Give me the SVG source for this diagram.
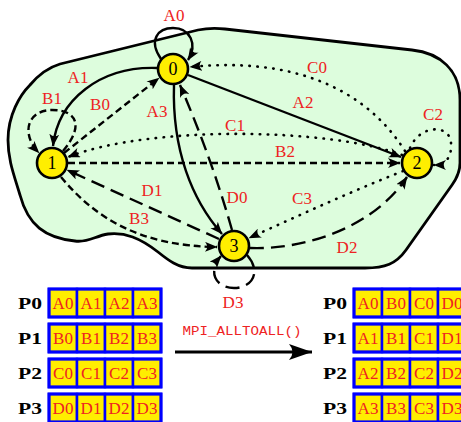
<svg xmlns="http://www.w3.org/2000/svg" width="461" height="422" viewBox="0 0 461 422">
<style>
.edge{fill:none;stroke:#000;stroke-width:2.4}
.a{}
.b{stroke-dasharray:7 4}
.c{stroke-dasharray:0.5 7.5;stroke-linecap:round;stroke-width:2.6}
.d{stroke-dasharray:14 7}
.lbl{font-family:"Liberation Serif","DejaVu Serif",serif;font-size:17px;fill:#ee2222;text-anchor:middle}
.node circle{fill:#ffee00;stroke:#000;stroke-width:2.6}
.node text{font-family:"Liberation Serif","DejaVu Serif",serif;font-size:18px;fill:#000;text-anchor:middle}
.cell{fill:#ffee00;stroke:#0000ff;stroke-width:2.5}
.outer{fill:none;stroke:#0000ff;stroke-width:3}
.ct{font-family:"Liberation Serif","DejaVu Serif",serif;font-size:17px;fill:#ee2222;text-anchor:middle}
.pl{font-family:"Liberation Serif","DejaVu Serif",serif;font-size:17px;font-weight:bold;fill:#000;text-anchor:middle}
</style>
<defs>
<marker id="ar" viewBox="0 0 13 10" refX="12" refY="5" markerWidth="13" markerHeight="10" markerUnits="userSpaceOnUse" orient="auto">
<path d="M12.5,5 L0,0 Q4.5,5 0,10 Z" fill="#000"/>
</marker>
<marker id="big" viewBox="0 0 24 16" refX="23" refY="8" markerWidth="24" markerHeight="16" markerUnits="userSpaceOnUse" orient="auto">
<path d="M23,8 L0,0 Q7,8 0,16 Z" fill="#000"/>
</marker>
</defs>

<path id="blob" d="M60,64 L198,30 C208,28 215,28 225,29 L412,50 C440,53 460,70 460,100 L460,163 C460,172 457,178 452,185 L406,250 C396,264 385,268 365,268 L192,268 C178,268 168,260 158,252 C140,238 125,232 108,234 C95,236 88,243 75,241 C45,238 28,225 20,195 C14,175 8,160 8,140 C8,115 20,95 30,85 C40,73 50,67 60,64 Z" fill="#ddfddd" stroke="#000" stroke-width="2.8"/>

<g id="connectors">
<path class="edge a" d="M161,59 C148,40 158,28 173,28 C190,28 198,44 188,60" marker-end="url(#ar)"/>
<path class="edge a" d="M157,68 C100,66 58,100 53,146" marker-end="url(#ar)"/>
<path class="edge a" d="M188,75 L401,157" marker-end="url(#ar)"/>
<path class="edge a" d="M174,85 C172,150 192,200 222,234" marker-end="url(#ar)"/>
<path class="edge b" d="M64,153 L159,78" marker-end="url(#ar)"/>
<path class="edge b" d="M63,151 C85,125 76,110 52,110 C28,110 20,133 39,153" marker-end="url(#ar)"/>
<path class="edge b" d="M68,163 L400,163" marker-end="url(#ar)"/>
<path class="edge b" d="M61,177 C95,218 140,246 217,247" marker-end="url(#ar)"/>
<path class="edge c" d="M405,151 C360,80 280,58 190,67" marker-end="url(#ar)"/>
<path class="edge c" d="M402,155 C330,128 150,125 68,157" marker-end="url(#ar)"/>
<path class="edge c" d="M410,148 C420,124 450,124 451,143 C452,158 445,165 434,165" marker-end="url(#ar)"/>
<path class="edge c" d="M403,171 C350,192 300,215 249,238" marker-end="url(#ar)"/>
<path class="edge d" d="M232,230 C215,170 195,120 180,85" marker-end="url(#ar)"/>
<path class="edge d" d="M219,239 L67,170" marker-end="url(#ar)"/>
<path class="edge d" d="M250,248 C300,250 372,230 407,177" marker-end="url(#ar)"/>
<path class="edge d" d="M247,255 C262,272 252,288 234,288 C216,288 207,272 221,256" marker-end="url(#ar)"/>
<text class="lbl" x="174" y="21">A0</text>
<text class="lbl" x="78" y="83">A1</text>
<text class="lbl" x="303" y="108">A2</text>
<text class="lbl" x="157" y="117">A3</text>
<text class="lbl" x="100" y="110">B0</text>
<text class="lbl" x="52" y="104">B1</text>
<text class="lbl" x="285" y="157">B2</text>
<text class="lbl" x="139" y="224">B3</text>
<text class="lbl" x="317" y="73">C0</text>
<text class="lbl" x="235" y="131">C1</text>
<text class="lbl" x="433" y="120">C2</text>
<text class="lbl" x="302" y="204">C3</text>
<text class="lbl" x="237" y="203">D0</text>
<text class="lbl" x="152" y="196">D1</text>
<text class="lbl" x="347" y="253">D2</text>
<text class="lbl" x="233" y="308">D3</text>
</g>

<g id="node0" class="node"><circle cx="173" cy="69" r="15"/><text x="173" y="75">0</text></g>
<g id="node1" class="node"><circle cx="52" cy="163" r="15"/><text x="52" y="169">1</text></g>
<g id="node2" class="node"><circle cx="417" cy="163" r="15"/><text x="417" y="169">2</text></g>
<g id="node3" class="node"><circle cx="234" cy="246" r="15"/><text x="234" y="252">3</text></g>

<g id="before">
<text class="pl" x="30" y="309" textLength="24" lengthAdjust="spacingAndGlyphs">P0</text>
<text class="pl" x="30" y="344" textLength="24" lengthAdjust="spacingAndGlyphs">P1</text>
<text class="pl" x="30" y="379" textLength="24" lengthAdjust="spacingAndGlyphs">P2</text>
<text class="pl" x="30" y="414" textLength="24" lengthAdjust="spacingAndGlyphs">P3</text>
<g>
<rect class="cell" x="49" y="289" width="28" height="28"/><rect class="cell" x="77" y="289" width="28" height="28"/><rect class="cell" x="105" y="289" width="28" height="28"/><rect class="cell" x="133" y="289" width="28" height="28"/><rect class="outer" x="49" y="289" width="112" height="28"/>
<text class="ct" x="63" y="309">A0</text><text class="ct" x="91" y="309">A1</text><text class="ct" x="119" y="309">A2</text><text class="ct" x="147" y="309">A3</text>
</g>
<g>
<rect class="cell" x="49" y="324" width="28" height="28"/><rect class="cell" x="77" y="324" width="28" height="28"/><rect class="cell" x="105" y="324" width="28" height="28"/><rect class="cell" x="133" y="324" width="28" height="28"/><rect class="outer" x="49" y="324" width="112" height="28"/>
<text class="ct" x="63" y="344">B0</text><text class="ct" x="91" y="344">B1</text><text class="ct" x="119" y="344">B2</text><text class="ct" x="147" y="344">B3</text>
</g>
<g>
<rect class="cell" x="49" y="359" width="28" height="28"/><rect class="cell" x="77" y="359" width="28" height="28"/><rect class="cell" x="105" y="359" width="28" height="28"/><rect class="cell" x="133" y="359" width="28" height="28"/><rect class="outer" x="49" y="359" width="112" height="28"/>
<text class="ct" x="63" y="379">C0</text><text class="ct" x="91" y="379">C1</text><text class="ct" x="119" y="379">C2</text><text class="ct" x="147" y="379">C3</text>
</g>
<g>
<rect class="cell" x="49" y="394" width="28" height="28"/><rect class="cell" x="77" y="394" width="28" height="28"/><rect class="cell" x="105" y="394" width="28" height="28"/><rect class="cell" x="133" y="394" width="28" height="28"/><rect class="outer" x="49" y="394" width="112" height="28"/>
<text class="ct" x="63" y="414">D0</text><text class="ct" x="91" y="414">D1</text><text class="ct" x="119" y="414">D2</text><text class="ct" x="147" y="414">D3</text>
</g>
</g>

<g id="op">
<line x1="175" y1="352" x2="312" y2="352" stroke="#000" stroke-width="2.8" marker-end="url(#big)"/>
<text x="242" y="335" font-family="'Liberation Mono','DejaVu Sans Mono',monospace" font-size="13.5" fill="#ee2222" text-anchor="middle" textLength="119" lengthAdjust="spacingAndGlyphs">MPI_ALLTOALL()</text>
</g>

<g id="after">
<text class="pl" x="335" y="309" textLength="24" lengthAdjust="spacingAndGlyphs">P0</text>
<text class="pl" x="335" y="344" textLength="24" lengthAdjust="spacingAndGlyphs">P1</text>
<text class="pl" x="335" y="379" textLength="24" lengthAdjust="spacingAndGlyphs">P2</text>
<text class="pl" x="335" y="414" textLength="24" lengthAdjust="spacingAndGlyphs">P3</text>
<g>
<rect class="cell" x="354" y="289" width="28" height="28"/><rect class="cell" x="382" y="289" width="28" height="28"/><rect class="cell" x="410" y="289" width="28" height="28"/><rect class="cell" x="438" y="289" width="28" height="28"/><rect class="outer" x="354" y="289" width="112" height="28"/>
<text class="ct" x="368" y="309">A0</text><text class="ct" x="396" y="309">B0</text><text class="ct" x="424" y="309">C0</text><text class="ct" x="452" y="309">D0</text>
</g>
<g>
<rect class="cell" x="354" y="324" width="28" height="28"/><rect class="cell" x="382" y="324" width="28" height="28"/><rect class="cell" x="410" y="324" width="28" height="28"/><rect class="cell" x="438" y="324" width="28" height="28"/><rect class="outer" x="354" y="324" width="112" height="28"/>
<text class="ct" x="368" y="344">A1</text><text class="ct" x="396" y="344">B1</text><text class="ct" x="424" y="344">C1</text><text class="ct" x="452" y="344">D1</text>
</g>
<g>
<rect class="cell" x="354" y="359" width="28" height="28"/><rect class="cell" x="382" y="359" width="28" height="28"/><rect class="cell" x="410" y="359" width="28" height="28"/><rect class="cell" x="438" y="359" width="28" height="28"/><rect class="outer" x="354" y="359" width="112" height="28"/>
<text class="ct" x="368" y="379">A2</text><text class="ct" x="396" y="379">B2</text><text class="ct" x="424" y="379">C2</text><text class="ct" x="452" y="379">D2</text>
</g>
<g>
<rect class="cell" x="354" y="394" width="28" height="28"/><rect class="cell" x="382" y="394" width="28" height="28"/><rect class="cell" x="410" y="394" width="28" height="28"/><rect class="cell" x="438" y="394" width="28" height="28"/><rect class="outer" x="354" y="394" width="112" height="28"/>
<text class="ct" x="368" y="414">A3</text><text class="ct" x="396" y="414">B3</text><text class="ct" x="424" y="414">C3</text><text class="ct" x="452" y="414">D3</text>
</g>
</g>
</svg>
